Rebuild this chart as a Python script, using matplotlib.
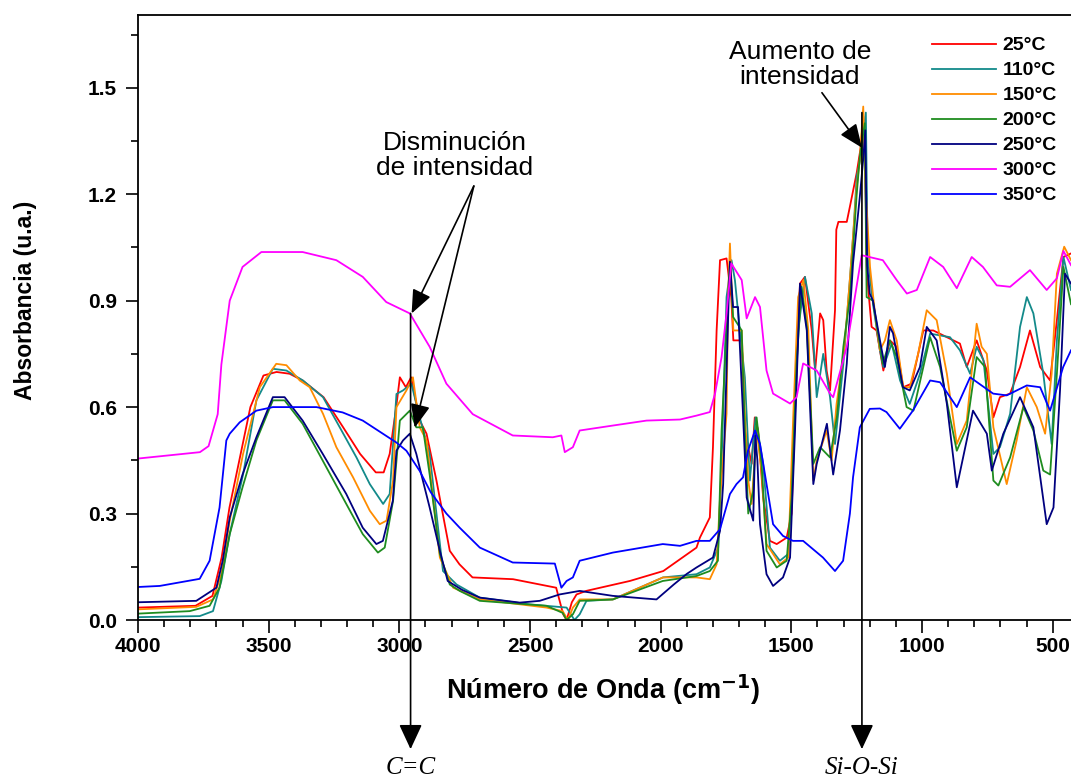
import matplotlib
matplotlib.use('Agg')
import matplotlib.pyplot as plt
from matplotlib.ticker import MultipleLocator, FormatStrFormatter

labels = ['25°C', '110°C', '150°C', '200°C', '250°C', '300°C', '350°C']
colors = ['#ff0000', '#138a8a', '#ff8c00', '#1f8c1f', '#00007f', '#ff00ff', '#0000ff']

s25 = [(4000,0.035),(3780,0.04),(3715,0.068),(3680,0.176),(3650,0.317),(3610,0.458),(3570,0.60),(3520,0.689),(3470,0.699),(3420,0.694),(3370,0.675),(3290,0.628),(3215,0.543),(3150,0.468),(3090,0.416),(3060,0.416),(3037,0.468),(3012,0.60),(2998,0.684),(2975,0.656),(2955,0.684),(2922,0.562),(2896,0.525),(2858,0.393),(2807,0.195),(2770,0.157),(2720,0.12),(2565,0.115),(2400,0.091),(2373,0.016),(2360,0.0),(2340,0.05),(2322,0.072),(2285,0.082),(2118,0.11),(1990,0.138),(1863,0.204),(1850,0.232),(1812,0.289),(1800,0.487),(1786,0.816),(1773,1.014),(1748,1.019),(1730,0.91),(1722,0.788),(1690,0.788),(1678,0.534),(1652,0.44),(1640,0.571),(1627,0.534),(1608,0.345),(1582,0.223),(1556,0.214),(1518,0.232),(1499,0.30),(1486,0.628),(1467,0.948),(1448,0.967),(1422,0.816),(1409,0.703),(1390,0.864),(1378,0.845),(1365,0.703),(1352,0.647),(1333,0.873),(1328,1.10),(1320,1.122),(1288,1.122),(1276,1.165),(1250,1.26),(1235,1.33),(1225,1.42),(1218,1.30),(1211,0.976),(1193,0.826),(1174,0.816),(1148,0.703),(1123,0.788),(1097,0.77),(1072,0.656),(1040,0.666),(995,0.816),(957,0.816),(905,0.797),(855,0.779),(829,0.713),(791,0.788),(752,0.703),(727,0.571),(702,0.628),(663,0.638),(625,0.713),(587,0.816),(548,0.713),(510,0.675),(484,0.845),(459,1.023),(430,1.033)]

s110 = [(4000,0.008),(3764,0.011),(3713,0.025),(3681,0.11),(3649,0.243),(3598,0.41),(3547,0.619),(3484,0.708),(3432,0.703),(3369,0.675),(3292,0.628),(3228,0.543),(3164,0.458),(3113,0.383),(3062,0.327),(3037,0.355),(3011,0.637),(2986,0.647),(2954,0.666),(2922,0.571),(2884,0.468),(2833,0.138),(2781,0.10),(2692,0.063),(2501,0.044),(2360,0.035),(2330,0.0),(2310,0.016),(2284,0.054),(2183,0.058),(1991,0.12),(1863,0.129),(1812,0.148),(1780,0.204),(1767,0.44),(1748,0.91),(1729,1.014),(1716,0.958),(1697,0.816),(1678,0.684),(1659,0.393),(1637,0.571),(1608,0.44),(1582,0.204),(1544,0.167),(1512,0.186),(1493,0.44),(1474,0.816),(1448,0.967),(1422,0.864),(1403,0.628),(1378,0.75),(1352,0.628),(1333,0.496),(1301,0.722),(1275,0.97),(1262,1.1),(1250,1.25),(1231,1.315),(1215,1.43),(1208,1.023),(1186,0.882),(1161,0.76),(1148,0.713),(1116,0.779),(1084,0.675),(1047,0.609),(1008,0.694),(969,0.807),(931,0.802),(893,0.797),(855,0.76),(816,0.694),(791,0.77),(765,0.732),(727,0.468),(702,0.487),(663,0.581),(625,0.826),(599,0.91),(574,0.864),(536,0.694),(504,0.496),(484,0.788),(459,1.023),(430,0.93)]

s150 = [(4000,0.03),(3777,0.037),(3713,0.058),(3681,0.129),(3649,0.28),(3598,0.468),(3534,0.656),(3471,0.722),(3432,0.718),(3381,0.675),(3343,0.656),(3292,0.581),(3241,0.487),(3177,0.402),(3113,0.308),(3075,0.27),(3049,0.28),(3024,0.393),(3011,0.60),(2973,0.647),(2948,0.684),(2922,0.543),(2896,0.506),(2845,0.176),(2794,0.091),(2692,0.058),(2437,0.035),(2375,0.025),(2355,0.0),(2336,0.035),(2310,0.058),(2183,0.058),(1991,0.12),(1863,0.12),(1812,0.115),(1786,0.157),(1773,0.345),(1748,0.581),(1742,0.91),(1735,1.061),(1722,0.816),(1690,0.816),(1678,0.581),(1665,0.393),(1652,0.327),(1633,0.534),(1614,0.421),(1595,0.214),(1544,0.157),(1512,0.176),(1493,0.571),(1474,0.91),(1454,0.958),(1435,0.816),(1416,0.393),(1403,0.449),(1365,0.534),(1346,0.449),(1327,0.609),(1300,0.75),(1288,0.85),(1275,0.97),(1262,1.1),(1250,1.22),(1238,1.30),(1225,1.447),(1215,1.2),(1199,0.995),(1180,0.864),(1161,0.76),(1142,0.788),(1123,0.845),(1097,0.788),(1072,0.656),(1047,0.656),(1015,0.75),(982,0.873),(944,0.845),(905,0.694),(867,0.496),(829,0.562),(791,0.835),(772,0.77),(752,0.75),(727,0.543),(676,0.383),(638,0.506),(599,0.656),(561,0.60),(529,0.525),(504,0.694),(484,0.976),(456,1.052),(430,1.014)]

s200 = [(4000,0.018),(3802,0.025),(3726,0.04),(3688,0.091),(3649,0.242),(3600,0.374),(3547,0.506),(3484,0.619),(3439,0.619),(3370,0.553),(3293,0.449),(3203,0.327),(3140,0.242),(3082,0.19),(3056,0.204),(3024,0.336),(2998,0.562),(2960,0.59),(2935,0.543),(2910,0.543),(2884,0.41),(2845,0.186),(2807,0.10),(2769,0.082),(2692,0.054),(2437,0.04),(2375,0.02),(2360,0.0),(2336,0.016),(2310,0.054),(2183,0.058),(1992,0.11),(1863,0.124),(1812,0.138),(1781,0.167),(1767,0.534),(1748,0.816),(1735,1.005),(1723,0.854),(1690,0.816),(1678,0.534),(1665,0.30),(1646,0.364),(1633,0.571),(1614,0.44),(1595,0.195),(1556,0.148),(1518,0.167),(1499,0.345),(1480,0.722),(1461,0.939),(1441,0.826),(1416,0.44),(1390,0.487),(1352,0.458),(1326,0.571),(1301,0.77),(1276,0.91),(1250,1.2),(1238,1.306),(1219,1.40),(1212,0.91),(1188,0.90),(1150,0.722),(1123,0.788),(1097,0.741),(1059,0.60),(1033,0.59),(995,0.713),(969,0.797),(931,0.713),(893,0.571),(867,0.477),(829,0.543),(791,0.741),(759,0.713),(727,0.393),(708,0.379),(663,0.458),(612,0.60),(574,0.534),(536,0.421),(510,0.41),(484,0.694),(459,0.995),(430,0.89)]

s250 = [(4000,0.05),(3777,0.054),(3700,0.091),(3676,0.167),(3649,0.289),(3600,0.41),(3547,0.515),(3484,0.628),(3439,0.628),(3370,0.562),(3293,0.468),(3203,0.355),(3140,0.26),(3088,0.214),(3063,0.223),(3025,0.336),(3011,0.477),(2986,0.506),(2960,0.525),(2935,0.468),(2910,0.393),(2884,0.317),(2845,0.195),(2815,0.11),(2760,0.085),(2692,0.063),(2539,0.049),(2463,0.054),(2387,0.072),(2310,0.082),(2183,0.068),(2016,0.058),(1950,0.10),(1900,0.13),(1863,0.148),(1800,0.176),(1773,0.251),(1761,0.383),(1740,0.9),(1735,1.01),(1723,0.882),(1704,0.882),(1685,0.58),(1671,0.345),(1646,0.28),(1638,0.52),(1630,0.45),(1620,0.27),(1595,0.129),(1570,0.096),(1532,0.12),(1505,0.176),(1486,0.534),(1467,0.948),(1441,0.816),(1416,0.383),(1403,0.44),(1364,0.553),(1340,0.41),(1314,0.534),(1288,0.722),(1264,1.005),(1238,1.193),(1225,1.30),(1217,1.38),(1210,1.0),(1200,0.92),(1188,0.90),(1161,0.788),(1142,0.713),(1123,0.826),(1111,0.808),(1073,0.656),(1047,0.647),(1008,0.713),(982,0.826),(944,0.788),(905,0.609),(867,0.374),(805,0.59),(752,0.525),(733,0.421),(689,0.525),(625,0.628),(574,0.543),(523,0.27),(497,0.317),(472,0.647),(453,0.976),(430,0.948)]

s300 = [(4000,0.455),(3763,0.473),(3730,0.49),(3695,0.58),(3681,0.72),(3649,0.90),(3600,0.995),(3528,1.037),(3370,1.037),(3241,1.014),(3140,0.967),(3050,0.896),(2960,0.864),(2884,0.77),(2820,0.666),(2719,0.58),(2566,0.52),(2413,0.515),(2380,0.52),(2367,0.473),(2336,0.487),(2310,0.534),(2183,0.548),(2054,0.562),(1926,0.565),(1863,0.576),(1812,0.586),(1792,0.638),(1767,0.741),(1748,0.864),(1730,1.005),(1690,0.958),(1671,0.85),(1639,0.91),(1620,0.882),(1595,0.703),(1570,0.638),(1505,0.61),(1480,0.628),(1455,0.723),(1403,0.703),(1352,0.638),(1340,0.628),(1288,0.77),(1231,1.028),(1150,1.014),(1097,0.958),(1058,0.92),(1020,0.93),(969,1.023),(919,0.995),(867,0.935),(810,1.023),(767,0.995),(714,0.943),(663,0.939),(587,0.986),(523,0.93),(484,0.963),(459,1.04),(430,1.0)]

s350 = [(4000,0.093),(3917,0.096),(3764,0.116),(3726,0.167),(3688,0.317),(3662,0.506),(3649,0.525),(3611,0.557),(3547,0.59),(3484,0.60),(3317,0.60),(3217,0.585),(3140,0.562),(3063,0.525),(3011,0.50),(2973,0.477),(2922,0.42),(2880,0.36),(2820,0.30),(2769,0.26),(2692,0.204),(2566,0.162),(2405,0.159),(2380,0.091),(2360,0.11),(2336,0.12),(2310,0.167),(2183,0.19),(1992,0.214),(1926,0.209),(1863,0.223),(1812,0.223),(1773,0.256),(1735,0.355),(1710,0.383),(1685,0.402),(1666,0.477),(1639,0.534),(1620,0.496),(1595,0.383),(1570,0.27),(1532,0.237),(1494,0.223),(1455,0.223),(1379,0.176),(1333,0.138),(1302,0.167),(1276,0.30),(1264,0.402),(1238,0.543),(1200,0.595),(1161,0.596),(1136,0.586),(1085,0.539),(1035,0.59),(969,0.675),(931,0.67),(867,0.60),(816,0.684),(728,0.638),(676,0.633),(599,0.661),(548,0.656),(510,0.59),(460,0.713),(430,0.76)]

series = [s25, s110, s150, s200, s250, s300, s350]

W, H = 1071, 778
fig = plt.figure(figsize=(W/100, H/100), dpi=100)
ax = fig.add_axes([138/W, (H-620)/H, (W-138)/W, (620-15)/H])

for s, lab, c in zip(series, labels, colors):
    xs = [p[0] for p in s]
    ys = [p[1] for p in s]
    ax.plot(xs, ys, color=c, lw=1.3, label=lab)

ax.set_xlim(4000, 430)
ax.set_ylim(0, 1.705)
ax.xaxis.set_major_locator(MultipleLocator(500))
ax.xaxis.set_minor_locator(MultipleLocator(100))
ax.yaxis.set_major_locator(MultipleLocator(0.3))
ax.yaxis.set_minor_locator(MultipleLocator(0.15))
ax.yaxis.set_major_formatter(FormatStrFormatter('%.1f'))
ax.tick_params(which='major', direction='out', length=9, width=1.2)
ax.tick_params(which='minor', direction='out', length=5, width=1.2)
ax.tick_params(axis='x', pad=3)
ax.tick_params(axis='y', pad=6)
tick_fp = matplotlib.font_manager.FontProperties(family='Liberation Sans', weight='bold', size=15)
for t in ax.get_xticklabels() + ax.get_yticklabels():
    t.set_fontproperties(tick_fp)
ax.spines['right'].set_visible(False)
for sp in ['left', 'bottom', 'top']:
    ax.spines[sp].set_linewidth(1.3)

fig.text(26/W, 1-300/H, 'Absorbancia (u.a.)', rotation=90, ha='center', va='center',
         family='Liberation Sans', weight='bold', size=16.5)
fig.text(603/W, 1-690/H, 'Número de Onda (cm$^{\\mathbf{-1}}$)', ha='center', va='center',
         family='Liberation Sans', weight='bold', size=19.5)

leg = ax.legend(loc='upper left', bbox_to_anchor=(922/W, 1-27/H), bbox_transform=fig.transFigure,
                frameon=False, handlelength=3.3, handletextpad=0.35, labelspacing=0.38,
                borderpad=0, prop=dict(family='Liberation Sans', weight='bold', size=14))

# annotations
ax.text(1467, 1.565, 'Aumento de\nintensidad', ha='center', va='center',
        family='Liberation Sans', size=19, linespacing=1.05)
ax.text(2788, 1.31, 'Disminución\nde intensidad', ha='center', va='center',
        family='Liberation Sans', size=19, linespacing=1.05)

arr_top = dict(arrowstyle='-|>,head_length=1.2,head_width=0.5', color='black', lw=1.2,
               mutation_scale=12, shrinkA=0, shrinkB=0)
ax.annotate('', xy=(1230, 1.331), xytext=(1383, 1.486), arrowprops=arr_top, annotation_clip=False)
ax.annotate('', xy=(2953, 0.864), xytext=(2715, 1.223), arrowprops=arr_top, annotation_clip=False)
ax.annotate('', xy=(2941, 0.542), xytext=(2715, 1.223), arrowprops=arr_top, annotation_clip=False)

arr_v = dict(arrowstyle='-|>,head_length=1.4,head_width=0.65', color='black', lw=1.2,
             mutation_scale=11, shrinkA=0, shrinkB=0)
ax.annotate('', xy=(2957, -0.364), xytext=(2957, 0.864), arrowprops=arr_v, annotation_clip=False)
ax.annotate('', xy=(1230, -0.364), xytext=(1230, 1.43), arrowprops=arr_v, annotation_clip=False)

fig.text(411/W, 1-768/H, 'C=C', ha='center', va='center', family='Liberation Serif',
         style='italic', size=18)
fig.text(862/W, 1-768/H, 'Si-O-Si', ha='center', va='center', family='Liberation Serif',
         style='italic', size=18)

fig.savefig('out.png', dpi=100)
